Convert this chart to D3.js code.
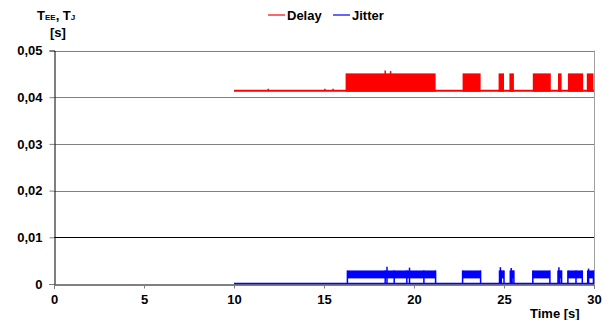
<!DOCTYPE html>
<html lang="en">
<head>
<meta charset="utf-8">
<script src="https://d3js.org/d3.v7.min.js"></script>
<style type="text/css">
body {
	margin: 0;
	background: white;
}
text {
	font-family: "Liberation Sans", Arial, sans-serif;
	font-weight: bold;
	font-size: 13px;
}
</style>
</head>
<body>
<script type="text/javascript">

// chart values
var xTicks = [0, 5, 10, 15, 20, 25, 30];
var yTicks = [0, 0.01, 0.02, 0.03, 0.04, 0.05];

// both series start at t = 10 s
var startTime = 10;
var endTime = 30;

// Delay: flat level, then dense bursts between low and high
var delayBase = 0.0414;
var delayHigh = 0.0451;
var delayBursts = [[16.2, 21.2], [22.7, 23.7], [24.7, 25.0], [25.3, 25.55], [26.6, 27.6], [28.0, 28.2], [28.55, 29.4], [29.6, 29.97]];
var delaySpikes = [[11.9, 0.0418], [15.05, 0.0418], [15.5, 0.0418], [18.4, 0.0457], [18.7, 0.0456]];

// Jitter: zero, then bursts between low and high
var jitterBase = 0;
var jitterLow = 0.0012;
var jitterHigh = 0.0029;
var jitterBursts = [[16.3, 21.2], [22.7, 23.7], [24.75, 25.0], [25.35, 25.55], [26.6, 27.55], [28.0, 28.2], [28.55, 29.35], [29.65, 29.97]];
var jitterDrops = [18.4, 18.9, 19.6, 20.55, 24.85, 25.45, 28.1, 29.0];
var jitterSpikes = [[18.5, 0.0037], [19.75, 0.0035], [24.8, 0.0036], [25.4, 0.0034], [28.05, 0.0036], [29.7, 0.0033]];

var legendText = ["Delay", "Jitter"];
var colors = ["#ff0000", "#0000ff"];

var width = 613;
var height = 320;
var margin = {left: 54, right: 19, top: 50.5, bottom: 36};

var svg = d3.select("body")
	.append("svg")
	.attr("width", width)
	.attr("height", height);

var x = d3.scaleLinear()
	.domain([0, 30])
	.range([margin.left, width - margin.right]);

var y = d3.scaleLinear()
	.domain([0, 0.05])
	.range([height - margin.bottom, margin.top]);

// gridlines
svg.selectAll("line.grid")
	.data(yTicks.slice(1))
	.enter()
	.append("line")
	.attr("class", "grid")
	.attr("x1", x(0))
	.attr("x2", x(30))
	.attr("y1", function(d) { return Math.round(y(d)) + 0.5; })
	.attr("y2", function(d) { return Math.round(y(d)) + 0.5; })
	.style("stroke", function(d) { return d == 0.01 ? "#000" : "#808080"; })
	.style("stroke-width", 1);

// right border
svg.append("line")
	.attr("x1", Math.round(x(30)) + 0.5)
	.attr("x2", Math.round(x(30)) + 0.5)
	.attr("y1", y(0.05))
	.attr("y2", y(0))
	.style("stroke", "#a0a0a0");

// Delay series
var g = svg.append("g");

g.append("line")
	.attr("x1", x(startTime))
	.attr("x2", x(endTime))
	.attr("y1", y(delayBase))
	.attr("y2", y(delayBase))
	.style("stroke", colors[0])
	.style("stroke-width", 2);

g.selectAll("rect.delay")
	.data(delayBursts)
	.enter()
	.append("rect")
	.attr("class", "delay")
	.attr("x", function(d) { return x(d[0]); })
	.attr("width", function(d) { return x(d[1]) - x(d[0]); })
	.attr("y", y(delayHigh))
	.attr("height", y(delayBase) - y(delayHigh) + 1)
	.style("fill", colors[0]);

g.selectAll("line.dspike")
	.data(delaySpikes)
	.enter()
	.append("line")
	.attr("class", "dspike")
	.attr("x1", function(d) { return x(d[0]); })
	.attr("x2", function(d) { return x(d[0]); })
	.attr("y1", y(delayBase))
	.attr("y2", function(d) { return y(d[1]); })
	.style("stroke", colors[0])
	.style("stroke-width", 1.5);

// Jitter series
var gj = svg.append("g");

gj.selectAll("rect.jitter")
	.data(jitterBursts)
	.enter()
	.append("rect")
	.attr("class", "jitter")
	.attr("x", function(d) { return x(d[0]); })
	.attr("width", function(d) { return x(d[1]) - x(d[0]); })
	.attr("y", y(jitterHigh))
	.attr("height", y(jitterLow) - y(jitterHigh))
	.style("fill", colors[1]);

// burst edges and drops go back to zero
var edges = [];
jitterBursts.forEach(function(d) { edges.push([d[0], jitterHigh], [d[1], jitterHigh]); });
jitterDrops.forEach(function(d) { edges.push([d, jitterHigh]); });
jitterSpikes.forEach(function(d) { edges.push(d); });

gj.selectAll("line.jedge")
	.data(edges)
	.enter()
	.append("line")
	.attr("class", "jedge")
	.attr("x1", function(d) { return x(d[0]); })
	.attr("x2", function(d) { return x(d[0]); })
	.attr("y1", y(jitterBase))
	.attr("y2", function(d) { return y(d[1]); })
	.style("stroke", colors[1])
	.style("stroke-width", 1.5);

// axes
var yAxis = d3.axisLeft(y)
	.tickValues(yTicks)
	.tickSize(5)
	.tickPadding(7)
	.tickFormat(function(d) { return d == 0 ? "0" : d3.format(".2f")(d).replace(".", ","); });

var xAxis = d3.axisBottom(x)
	.tickValues(xTicks)
	.tickSize(4)
	.tickPadding(6);

svg.append("g")
	.attr("transform", "translate(" + (Math.round(x(0)) + 0.5) + ",0)")
	.call(yAxis)
	.call(function(a) {
		a.select(".domain").style("stroke", "#000");
		a.selectAll(".tick line").style("stroke", "#808080");
		a.selectAll("text").style("font-size", "13px").style("font-family", "Liberation Sans").style("fill", "#000");
	});

svg.append("g")
	.attr("transform", "translate(0," + (Math.round(y(0)) + 0.5) + ")")
	.call(xAxis)
	.call(function(a) {
		a.select(".domain").style("stroke", "#000");
		a.selectAll(".tick line").style("stroke", "#808080");
		a.selectAll("text").style("font-size", "13px").style("font-family", "Liberation Sans").style("fill", "#000");
	});

// jitter zero line drawn over the axis
gj.raise();
gj.append("line")
	.attr("x1", x(startTime))
	.attr("x2", x(endTime))
	.attr("y1", y(jitterBase) - 0.5)
	.attr("y2", y(jitterBase) - 0.5)
	.style("stroke", colors[1])
	.style("stroke-width", 1.5);

// axis titles
var yt = svg.append("text")
	.attr("x", 37)
	.attr("y", 20);
yt.append("tspan").text("T");
yt.append("tspan").text("EE").style("font-size", "8px");
yt.append("tspan").text(", T");
yt.append("tspan").text("J").style("font-size", "8px");

svg.append("text")
	.attr("x", 50)
	.attr("y", 37)
	.text("[s]");

svg.append("text")
	.attr("x", 530)
	.attr("y", 318)
	.text("Time [s]");

// legend
var legend = svg.selectAll("g.legend")
	.data(legendText)
	.enter()
	.append("g")
	.attr("class", "legend")
	.attr("transform", function(d, i) { return "translate(" + (268 + i * 65) + ",15)"; });

legend.append("line")
	.attr("x1", 0)
	.attr("x2", 17)
	.style("stroke", function(d, i) { return colors[i]; })
	.style("stroke-width", 1.2);

legend.append("text")
	.attr("x", 19)
	.attr("dy", "0.35em")
	.text(function(d) { return d; });

</script>
</body>
</html>
